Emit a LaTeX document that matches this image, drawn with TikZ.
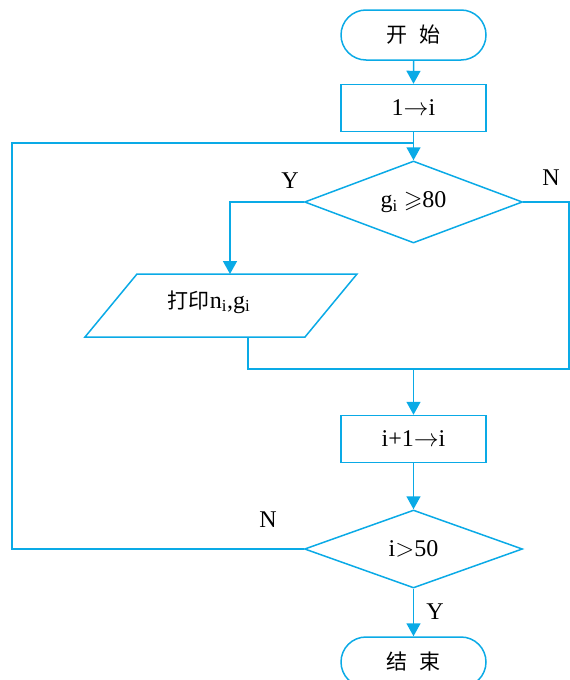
\documentclass[tikz,border=0pt]{standalone}
\usepackage{fontspec}
\usepackage{amssymb}
\setmainfont{Liberation Serif}
\newfontfamily\cjk{Noto Sans CJK SC}
\usetikzlibrary{arrows.meta,shapes.geometric,shapes.misc}
\definecolor{flowblue}{RGB}{10,170,230}
\newcommand{\lbl}{\fontsize{24}{26}\selectfont}
\newcommand{\hz}[1]{{\cjk\fontsize{21}{24}\selectfont #1}}

\begin{document}
\begin{tikzpicture}[x=1pt, y=-1pt, line width=1.5pt,
  every node/.style={font=\lbl},
  term/.style={rounded rectangle, draw=flowblue, minimum width=145pt, minimum height=50pt, inner sep=0pt},
  proc/.style={rectangle, draw=flowblue, minimum width=145pt, minimum height=47pt, inner sep=0pt},
  decide/.style={diamond, draw=flowblue, aspect=2.6, minimum width=218pt, minimum height=82pt, inner sep=0pt},
  flow/.style={draw=flowblue, -{Triangle[width=14pt,length=13pt]}},
  wire/.style={draw=flowblue}]
  \useasboundingbox (0,0) rectangle (570,680);
  % boxes
  \node[term] (start) at (413.5,35) {\hz{开\hspace{12pt}始}};
  \node[proc] (init) at (413.5,108) {1$\rightarrow$i};
  \node[decide] (test) at (413.5,202) {g\textsubscript{i} $\geqslant$80};
  \node (print) at (209,302) {\hz{打印}n\textsubscript{i},g\textsubscript{i}};
  \draw[wire] (137,274) coordinate (ptl) -- (357,274) -- (305,337) -- (85,337) coordinate (pbl) -- cycle;
  \node[proc] (incr) at (413.5,439) {i+1$\rightarrow$i};
  \node[decide, minimum height=78pt] (again) at (413.5,549) {i$>$50};
  \node[term] (stop) at (413.5,662) {\hz{结\hspace{12pt}束}};
  % helper points
  \coordinate (loop) at (12,143);
  \coordinate (edge) at (569,369);
  \coordinate (pin) at (230,274);
  \coordinate (pout) at (248,337);
  % connectors
  \draw[flow] (start) -- (init);
  \draw[flow] (init) -- (test);
  \draw[flow] (test.west) -| (pin);
  \draw[wire] (test.east) -| (edge) -- (pout |- edge) -- (pout);
  \draw[flow] (incr.north |- edge) -- (incr);
  \draw[flow] (incr) -- (again);
  \draw[flow] (again) -- (stop);
  \draw[wire] (again.west) -| (loop) -- (loop -| test.north);
  % labels
  \node at (290,181) {Y};
  \node at (551,178) {N};
  \node at (268,520) {N};
  \node at (435,612) {Y};
\end{tikzpicture}
\end{document}
